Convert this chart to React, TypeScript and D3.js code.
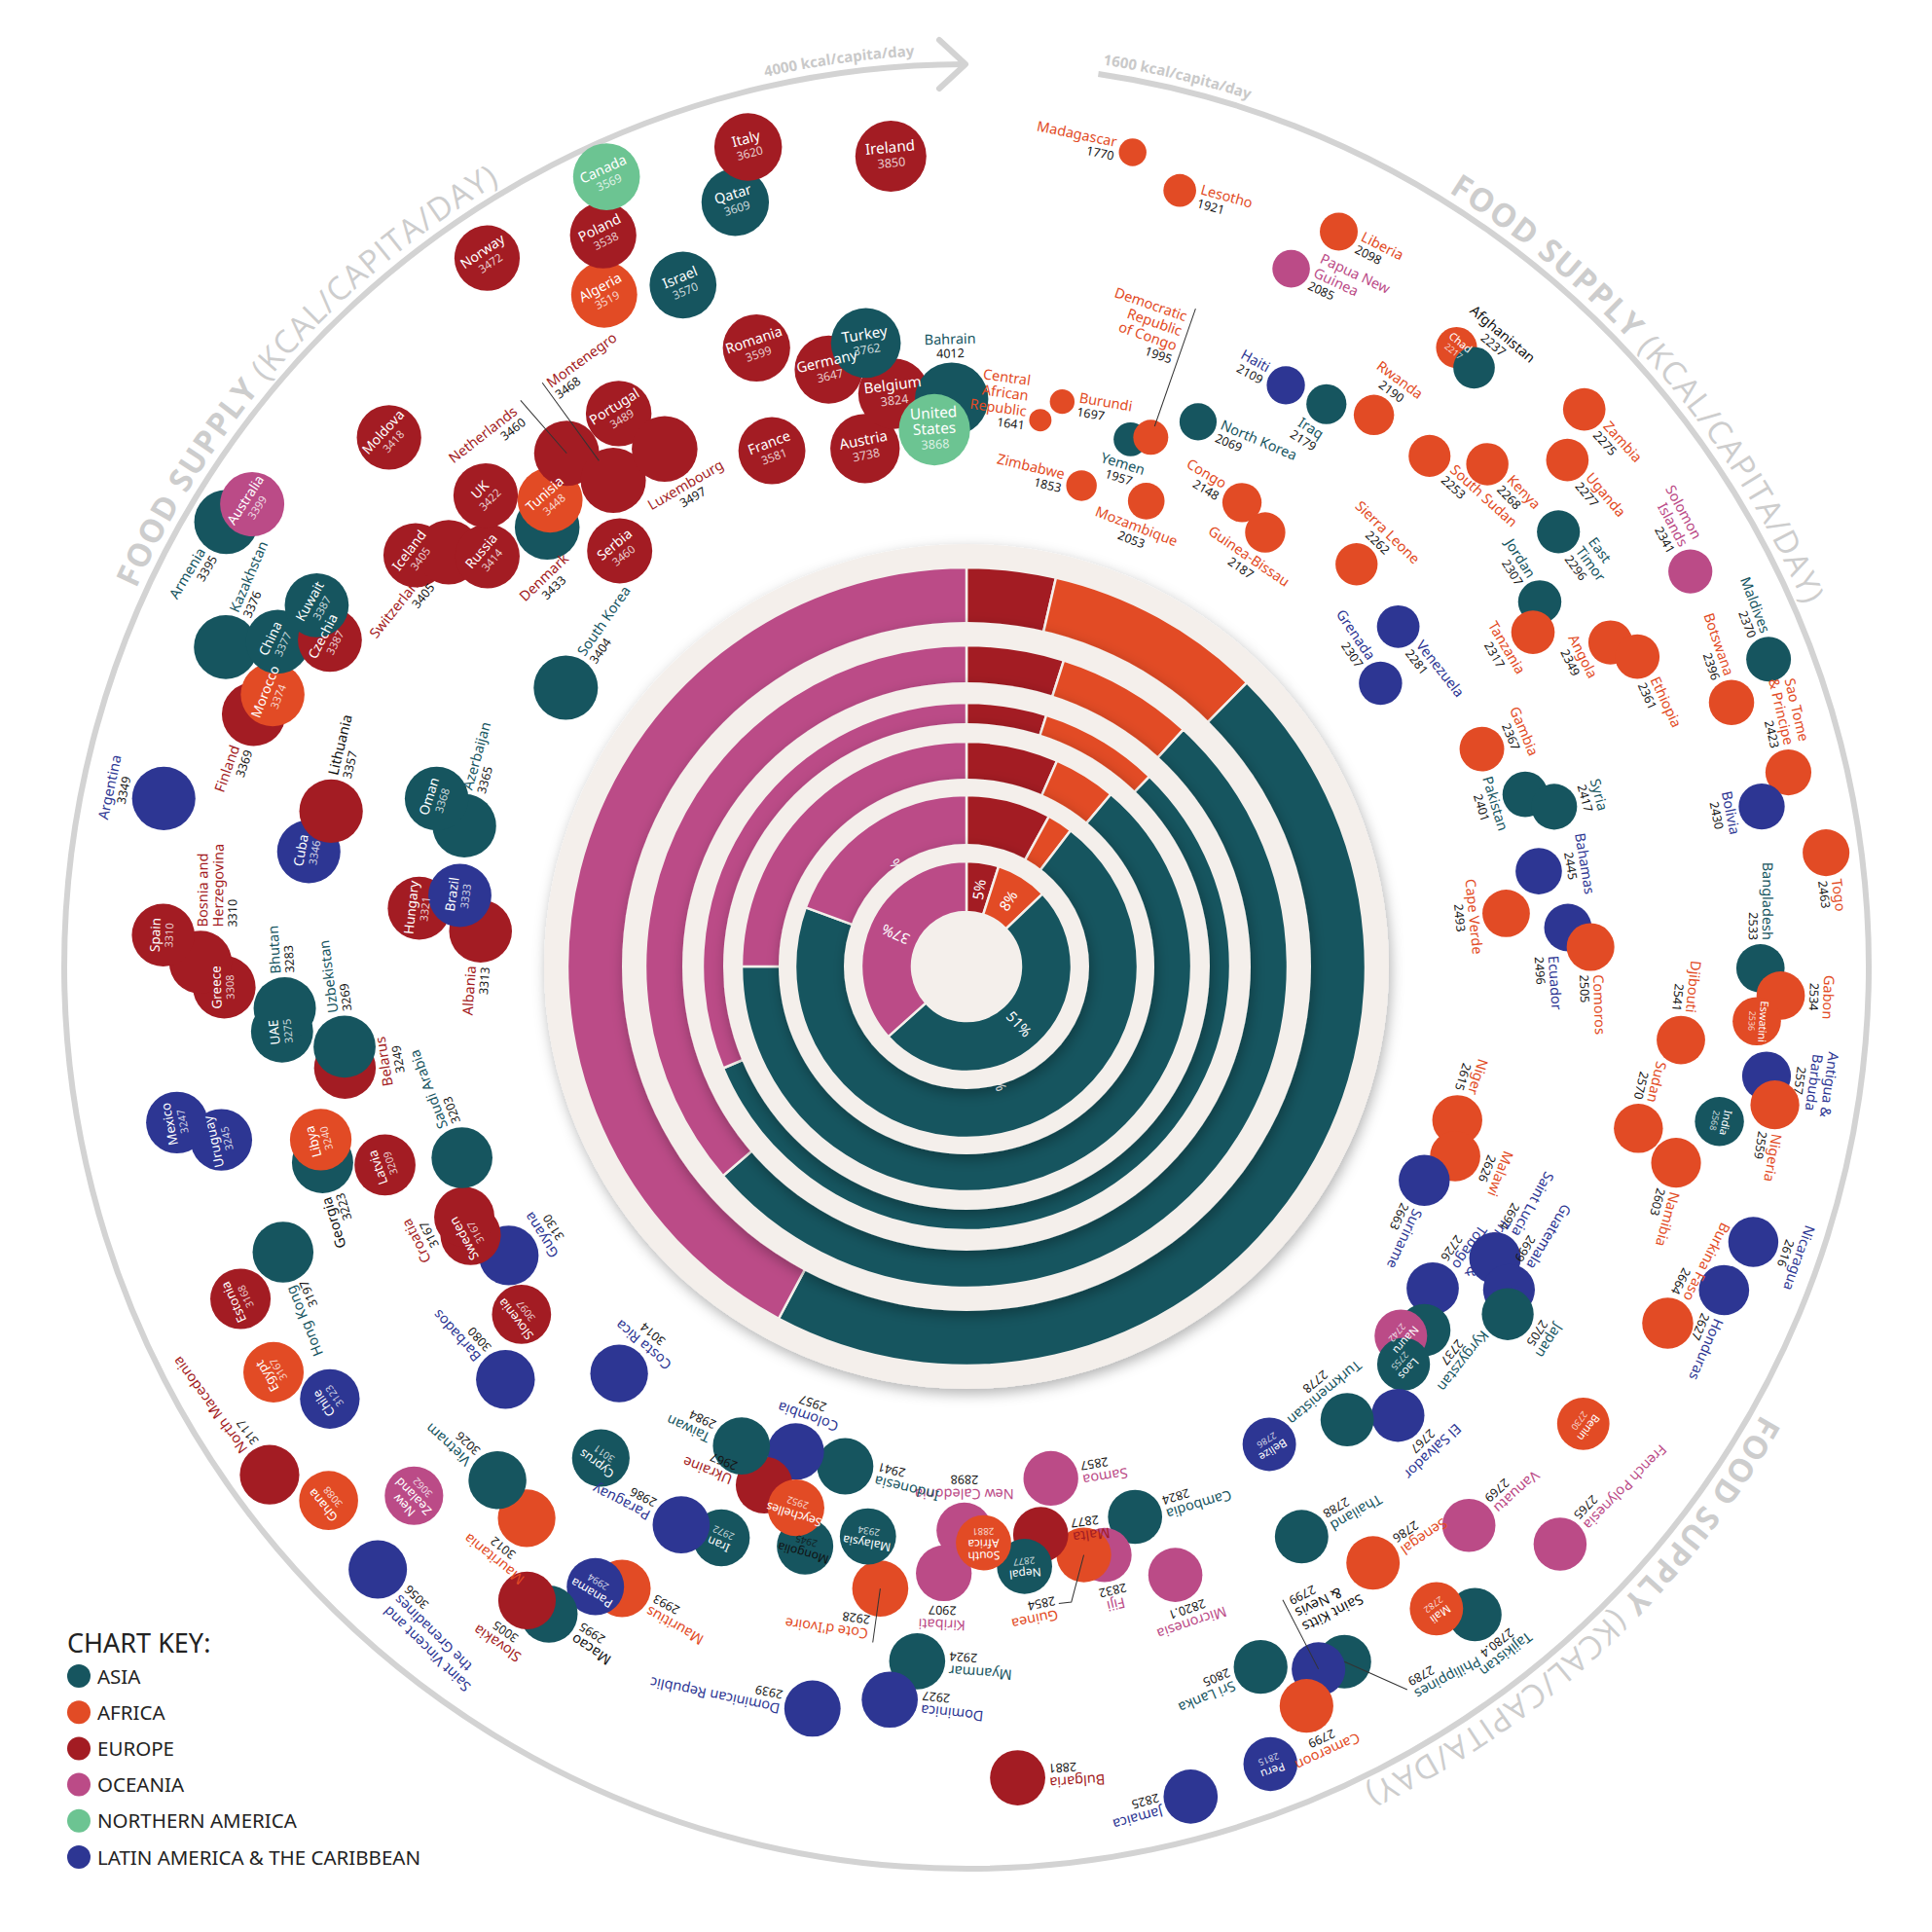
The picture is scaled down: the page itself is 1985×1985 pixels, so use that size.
import React from "react";
import * as d3 from "d3";

// ---------------- DATA ----------------
const countries = [
  "Central African Republic","Burundi","Madagascar","Zimbabwe","Lesotho","Yemen","Democratic Republic of Congo","Mozambique","North Korea","Papua New Guinea",
  "Liberia","Haiti","Congo","Iraq","Guinea-Bissau","Rwanda","Chad","Afghanistan","South Sudan","Sierra Leone",
  "Kenya","Zambia","Uganda","Venezuela","East Timor","Grenada","Jordan","Tanzania","Solomon Islands","Angola",
  "Ethiopia","Gambia","Maldives","Botswana","Pakistan","Syria","Sao Tome & Principe","Bolivia","Bahamas","Togo",
  "Cape Verde","Ecuador","Comoros","Bangladesh","Gabon","Eswatini","Djibouti","Antigua & Barbuda","Nigeria","India",
  "Sudan","Namibia","Niger","Nicaragua","Malawi","Honduras","Suriname","Burkina Faso","Saint Lucia","Guatemala",
  "Japan","Trinidad & Tobago","Benin","Kyrgyzstan","Nauru","Laos","French Polynesia","El Salvador","Vanuatu","Turkmenistan",
  "Tajikistan","Mali","Senegal","Belize","Thailand","Philippines","Saint Kitts & Nevis","Cameroon","Sri Lanka","Peru",
  "Micronesia","Cambodia","Jamaica","Fiji","Guinea","Samoa","Malta","Nepal","Bulgaria","South Africa",
  "New Caledonia","Kiribati","Myanmar","Dominica","Cote d'Ivoire","Malaysia","Dominican Republic","Indonesia","Mongolia","Seychelles",
  "Colombia","Ukraine","Iran","Taiwan","Paraguay","Mauritius","Panama","Macao","Slovakia","Cyprus",
  "Mauritania","Costa Rica","Vietnam","Saint Vincent and the Grenadines","New Zealand","Barbados","Ghana","Slovenia","North Macedonia","Chile",
  "Guyana","Egypt","Sweden","Croatia","Estonia","Hong Kong","Saudi Arabia","Latvia","Georgia","Libya",
  "Uruguay","Mexico","Belarus","Uzbekistan","UAE","Bhutan","Greece","Bosnia and Herzegovina","Spain","Albania",
  "Hungary","Brazil","Cuba","Argentina","Lithuania","Azerbaijan","Oman","Finland","Morocco","Kazakhstan",
  "China","Czechia","Kuwait","Armenia","Australia","South Korea","Iceland","Switzerland","Russia","Moldova",
  "UK","Denmark","Tunisia","Serbia","Netherlands","Montenegro","Norway","Portugal","Luxembourg","Algeria",
  "Poland","Canada","Israel","France","Romania","Qatar","Italy","Germany","Austria","Turkey",
  "Belgium","Ireland","United States","Bahrain",
];

const kcal = [
  1641,1697,1770,1853,1921,1957,1995,2053,2069,2085,
  2098,2109,2148,2179,2187,2190,2217,2237,2253,2262,
  2268,2275,2277,2281,2296,2307,2307,2317,2341,2349,
  2361,2367,2370,2396,2401,2417,2423,2430,2445,2463,
  2493,2496,2505,2533,2534,2536,2541,2557,2559,2568,
  2570,2603,2615,2616,2626,2627,2663,2664,2694,2699,
  2705,2726,2730,2737,2742,2755,2765,2767,2769,2778,
  2780.4,2782,2786,2786,2788,2789,2799,2799,2805,2815,
  2820.1,2824,2825,2832,2854,2857,2877,2877,2881,2881,
  2898,2907,2924,2927,2928,2934,2939,2941,2945,2952,
  2957,2967,2972,2984,2986,2993,2994,2995,3005,3011,
  3012,3014,3026,3056,3062,3080,3088,3097,3117,3123,
  3130,3167,3167,3167,3168,3197,3203,3209,3223,3240,
  3245,3247,3249,3269,3275,3283,3308,3310,3310,3313,
  3321,3333,3346,3349,3357,3365,3368,3369,3374,3376,
  3377,3387,3387,3395,3399,3404,3405,3405,3414,3418,
  3422,3433,3448,3460,3460,3468,3472,3489,3497,3519,
  3538,3569,3570,3581,3599,3609,3620,3647,3738,3762,
  3824,3850,3868,4012,
];

// A Asia, F Africa, E Europe, O Oceania, N Northern America, L Latin America & Caribbean
const regionOf = [
  "F","F","F","F","F","A","F","F","A","O",
  "F","L","F","A","F","F","F","A","F","F",
  "F","F","F","L","A","L","A","F","O","F",
  "F","F","A","F","A","A","F","L","L","F",
  "F","L","F","A","F","F","F","L","F","A",
  "F","F","F","L","F","L","L","F","L","L",
  "A","L","F","A","O","A","O","L","O","A",
  "A","F","F","L","A","A","L","F","A","L",
  "O","A","L","O","F","O","E","A","E","F",
  "O","O","A","L","F","A","L","A","A","F",
  "L","E","A","A","L","F","L","A","E","A",
  "F","L","A","L","O","L","F","E","E","L",
  "L","F","E","E","E","A","A","E","A","F",
  "L","L","E","A","A","A","E","E","E","E",
  "E","L","L","L","E","A","A","E","F","A",
  "A","E","A","A","O","A","E","E","E","E",
  "E","E","F","E","E","E","E","E","E","F",
  "E","N","A","E","E","A","E","E","E","A",
  "E","E","N","A",
];

// relative radial position (share of the outer ring radius)
const radialPos = [
  0.611,0.635,0.921,0.548,0.892,0.612,0.621,0.553,0.656,0.853,
  0.913,0.735,0.598,0.740,0.584,0.760,0.875,0.870,0.764,0.621,
  0.802,0.922,0.871,0.609,0.814,0.556,0.753,0.729,0.914,0.799,
  0.819,0.620,0.952,0.897,0.648,0.675,0.936,0.899,0.643,0.961,
  0.601,0.668,0.692,0.880,0.903,0.878,0.796,0.895,0.909,0.852,
  0.766,0.816,0.570,0.924,0.581,0.913,0.560,0.872,0.669,0.700,
  0.713,0.628,0.851,0.648,0.632,0.655,0.918,0.690,0.833,0.656,
  0.913,0.882,0.800,0.627,0.733,0.877,0.871,0.902,0.842,0.946,
  0.713,0.638,0.953,0.670,0.665,0.575,0.635,0.668,0.901,0.639,
  0.625,0.673,0.772,0.817,0.696,0.641,0.840,0.570,0.667,0.629,
  0.570,0.617,0.689,0.587,0.695,0.788,0.801,0.854,0.855,0.679,
  0.782,0.593,0.771,0.934,0.848,0.686,0.922,0.626,0.956,0.853,
  0.600,0.890,0.625,0.622,0.885,0.821,0.598,0.681,0.746,0.741,
  0.848,0.892,0.698,0.695,0.762,0.757,0.823,0.849,0.891,0.540,
  0.610,0.567,0.740,0.909,0.725,0.578,0.616,0.838,0.826,0.894,
  0.844,0.793,0.824,0.957,0.943,0.541,0.762,0.735,0.699,0.868,
  0.746,0.673,0.693,0.600,0.721,0.666,0.948,0.724,0.664,0.846,
  0.905,0.962,0.818,0.611,0.724,0.885,0.940,0.679,0.585,0.700,
  0.640,0.902,0.596,0.629,
];

const regionKeys = ["A","F","E","O","N","L"];
const regionNames = ["ASIA","AFRICA","EUROPE","OCEANIA","NORTHERN AMERICA","LATIN AMERICA & THE CARIBBEAN"];

// nested rings: shares of red, orange, teal, pink (innermost ring first)
const ringShares = [
  [5, 8, 51, 37],
  [8, 2.4, 70.2, 19.4],
  [6.6, 4.5, 63.9, 25],
  [4.9, 7.3, 56.5, 31.3],
  [4.9, 6.9, 51.9, 36.3],
  [3.6, 8.8, 45.4, 42.2],
];

// ---------------- STYLE / LAYOUT ----------------
const regionColor: Record<string, string> = {
  A: "#16555f", F: "#e24b25", E: "#a31c23", O: "#bb4b87", N: "#6cc492", L: "#2d3693",
};
const ringColors = ["#a31c23", "#e24b25", "#16555f", "#bb4b87"];
const CREAM = "#f4efeb";
const W = 1985;
const CX = 993, CY = 993;
const R_OUT = 927;
const ringOuterR = [108, 176, 231, 271, 330, 410];
const diskR = [126, 193, 250, 292, 354, 434];
const FONT = "'Noto Sans', 'Open Sans', sans-serif";

const nameLines: Record<string, string[]> = {
  "Central African Republic": ["Central", "African", "Republic"],
  "Democratic Republic of Congo": ["Democratic", "Republic", "of Congo"],
  "Papua New Guinea": ["Papua New", "Guinea"],
  "East Timor": ["East", "Timor"],
  "Solomon Islands": ["Solomon", "Islands"],
  "Sao Tome & Principe": ["Sao Tome", "& Principe"],
  "Antigua & Barbuda": ["Antigua &", "Barbuda"],
  "Trinidad & Tobago": ["Trinidad &", "Tobago"],
  "Saint Kitts & Nevis": ["Saint Kitts", "& Nevis"],
  "South Africa": ["South", "Africa"],
  "Saint Vincent and the Grenadines": ["Saint Vincent and", "the Grenadines"],
  "New Zealand": ["New", "Zealand"],
  "Bosnia and Herzegovina": ["Bosnia and", "Herzegovina"],
  "United States": ["United", "States"],
};

const labelMode: Record<string, string> = {
  "Central African Republic": "l", "Burundi": "r", "Madagascar": "l", "Zimbabwe": "l", "Lesotho": "r",
  "Yemen": "b", "Mozambique": "b", "North Korea": "r", "Papua New Guinea": "r", "Liberia": "r",
  "Haiti": "l", "Congo": "l", "Iraq": "b", "Guinea-Bissau": "b", "Rwanda": "a", "Afghanistan": "a",
  "South Sudan": "r", "Sierra Leone": "a", "Kenya": "r", "Zambia": "r", "Uganda": "r", "Venezuela": "r",
  "East Timor": "r", "Grenada": "l", "Jordan": "l", "Tanzania": "b", "Solomon Islands": "l", "Angola": "b",
  "Ethiopia": "r", "Gambia": "a", "Maldives": "l", "Botswana": "l", "Pakistan": "b", "Syria": "a",
  "Sao Tome & Principe": "l", "Bolivia": "b", "Bahamas": "a", "Togo": "r", "Cape Verde": "b",
  "Comoros": "r", "Bangladesh": "l", "Gabon": "a", "Djibouti": "l",
  "Antigua & Barbuda": "a", "Nigeria": "r", "Sudan": "l", "Namibia": "r", "Niger": "l",
  "Nicaragua": "a", "Malawi": "a", "Honduras": "r", "Suriname": "r", "Burkina Faso": "l",
  "Saint Lucia": "l", "Guatemala": "l", "Japan": "a", "Trinidad & Tobago": "l", "Kyrgyzstan": "a",
  "French Polynesia": "l", "El Salvador": "a", "Vanuatu": "l", "Turkmenistan": "b", "Tajikistan": "a",
  "Senegal": "l", "Thailand": "l", "Cameroon": "a", "Sri Lanka": "r", "Micronesia": "a",
  "Cambodia": "l", "Jamaica": "r", "Fiji": "a", "Samoa": "l", "Malta": "l", "Bulgaria": "l",
  "New Caledonia": "b", "Kiribati": "a", "Myanmar": "l", "Dominica": "l", "Dominican Republic": "r",
  "Indonesia": "l", "Colombia": "b", "Ukraine": "r", "Taiwan": "r", "Paraguay": "r", "Mauritius": "l",
  "Macao": "l", "Slovakia": "a", "Mauritania": "a", "Costa Rica": "b", "Vietnam": "r",
  "Saint Vincent and the Grenadines": "l", "Barbados": "r", "North Macedonia": "r", "Guyana": "b",
  "Croatia": "a", "Hong Kong": "l", "Saudi Arabia": "r", "Georgia": "l", "Belarus": "b",
  "Uzbekistan": "r", "Bhutan": "r", "Bosnia and Herzegovina": "rd", "Albania": "l", "Argentina": "a",
  "Lithuania": "r", "Azerbaijan": "r", "Finland": "l", "Kazakhstan": "r", "Armenia": "l",
  "South Korea": "r", "Switzerland": "l", "Luxembourg": "b", "Bahrain": "a",
};

type Custom = { x: number; y: number; anchor: string; lead?: number[] };
const customLabel: Record<string, Custom> = {
  "Democratic Republic of Congo": { x: -6, y: -124, anchor: "end", lead: [0, -12, 0, -140] },
  "Philippines": { x: -48, y: -60, anchor: "end", lead: [0, 0, -43, -56] },
  "Saint Kitts & Nevis": { x: -5, y: 50, anchor: "end", lead: [0, 0, 1, 80] },
  "Guinea": { x: 38, y: -50, anchor: "start", lead: [0, 0, 22, -45, 35, -44] },
  "Cote d'Ivoire": { x: 6, y: -43, anchor: "start", lead: [0, 0, 0, -56] },
  "Denmark": { x: -38, y: 40, anchor: "middle" },
  "Netherlands": { x: -14, y: -63, anchor: "end", lead: [0, 0, -4, -72] },
  "Montenegro": { x: 4, y: -114, anchor: "start", lead: [0, -25, 0, -124] },
  "Ecuador": { x: 28, y: 22, anchor: "start" },
};

const blackNames = ["Afghanistan", "Georgia", "Lithuania", "Macao", "Saint Kitts & Nevis", "Mongolia"];
const fillOverride: Record<string, string> = { Denmark: "A" };
const drawnLast = ["Chile", "Slovenia", "Seychelles", "South Africa", "Turkey", "United States"];

const rad = (deg: number) => (deg * Math.PI) / 180;
const polar = (r: number, deg: number): [number, number] => [CX + r * Math.sin(rad(deg)), CY - r * Math.cos(rad(deg))];

function CountryLabel({ d }: { d: any }) {
  const lines = nameLines[d.name] || [d.name];
  const n = lines.length;
  const isBlack = blackNames.includes(d.name);
  const valStr = Number.isInteger(d.v) ? String(d.v) : d.v.toFixed(1);
  const custom = customLabel[d.name];
  const mode = custom ? "custom" : labelMode[d.name] || "in";
  const r = d.r;
  const tf = `translate(${d.x},${d.y}) rotate(${d.angle})`;

  if (mode === "in") {
    const fs = Math.max(11, Math.min(15.5, r * 0.42));
    const vfs = fs * 0.82;
    const lh = fs * 1.05;
    const startY = -((n - 1) * lh) / 2 - vfs * 0.3;
    const nameFill = isBlack ? "#111" : "#fff";
    return (
      <g transform={tf} fontFamily={FONT} textAnchor="middle">
        {lines.map((t, k) => (
          <text key={k} y={startY + k * lh} fontSize={fs} fill={nameFill}>{t}</text>
        ))}
        <text y={startY + (n - 1) * lh + vfs * 1.2} fontSize={vfs} fill={nameFill} fillOpacity={0.78}>{valStr}</text>
      </g>
    );
  }

  const nameFill = isBlack ? "#111" : regionColor[d.region];
  const nfs = 14.5, vfs = 12.5, lh = 16;
  let x = 0, anchor = "middle";
  let ys: number[] = [];
  let vy = 0;
  let lead: number[] | undefined;
  if (mode === "l" || mode === "r") {
    x = mode === "l" ? -(r + 4) : r + 4;
    anchor = mode === "l" ? "end" : "start";
    ys = lines.map((_, k) => -2 - (n - 1 - k) * lh);
    vy = 12;
  } else if (mode === "rd") {
    x = r + 4; anchor = "start";
    ys = lines.map((_, k) => 7 + k * lh);
    vy = 7 + (n - 1) * lh + 14;
  } else if (mode === "a") {
    vy = -(r + 5);
    ys = lines.map((_, k) => -(r + 5 + 14) - (n - 1 - k) * lh);
  } else if (mode === "b") {
    ys = lines.map((_, k) => r + 14 + k * lh);
    vy = r + 14 + (n - 1) * lh + 14;
  } else if (custom) {
    x = custom.x; anchor = custom.anchor;
    ys = lines.map((_, k) => custom.y + k * lh);
    vy = custom.y + (n - 1) * lh + 14;
    lead = custom.lead;
  }
  return (
    <g transform={tf} fontFamily={FONT} textAnchor={anchor}>
      {lead && (
        <polyline
          points={d3.range(0, lead.length, 2).map((k) => `${lead![k]},${lead![k + 1]}`).join(" ")}
          fill="none" stroke="#333" strokeWidth={1}
        />
      )}
      {lines.map((t, k) => (
        <text key={k} x={x} y={ys[k]} fontSize={nfs} fill={nameFill}>{t}</text>
      ))}
      <text x={x} y={vy} fontSize={vfs} fill="#161616">{valStr}</text>
    </g>
  );
}

export default function App() {
  const N = countries.length;
  const angleScale = d3.scaleLinear().domain([0, N - 1]).range([7.7, 358.5]);
  const radialScale = d3.scaleLinear().domain([0, 1]).range([0, R_OUT]);
  const sizeScale = d3.scaleSqrt().domain([0, 2612]).range([0, 37.7]);

  const data = countries.map((name, i) => {
    const angle = angleScale(i);
    const dist = radialScale(radialPos[i]);
    const [x, y] = polar(dist, angle);
    return { name, v: kcal[i], region: regionOf[i], angle, x, y, r: sizeScale(kcal[i] - 1400), i };
  });

  const order = [...data].sort((a, b) => {
    const ra = drawnLast.indexOf(a.name), rb = drawnLast.indexOf(b.name);
    if (ra !== rb) return ra - rb;
    return a.v - b.v || a.i - b.i;
  });

  const pie = d3.pie<number>().sort(null).value((v) => v);
  const ringArcs = ringShares.map((shares, k) => {
    const inner = k === 0 ? 56 : diskR[k - 1] - 6;
    const arc = d3.arc<d3.PieArcDatum<number>>().innerRadius(inner).outerRadius(ringOuterR[k]);
    return { k, inner, arc, arcs: pie(shares) };
  });

  const textR = 937;
  const circPath = `M ${CX} ${CY - textR} A ${textR} ${textR} 0 1 1 ${CX} ${CY + textR} A ${textR} ${textR} 0 1 1 ${CX} ${CY - textR}`;
  const off = (deg: number) => (deg / 360) * 2 * Math.PI * textR;

  const arcStart = polar(R_OUT, 8.4);
  const arcEnd = polar(R_OUT, 359.9);
  const outerArc = `M ${arcStart[0]} ${arcStart[1]} A ${R_OUT} ${R_OUT} 0 1 1 ${arcEnd[0]} ${arcEnd[1]}`;

  const foodStarts = [294.5, 31.9, 119.4];

  return (
    <svg width={W} height={W} viewBox={`0 0 ${W} ${W}`} style={{ position: "absolute", left: 0, top: 0, background: "#fff" }}>
      <defs>
        <filter id="ringShadow" x="-20%" y="-20%" width="140%" height="140%">
          <feDropShadow dx="2" dy="5" stdDeviation="7" floodColor="#000" floodOpacity="0.3" />
        </filter>
        <path id="textCircle" d={circPath} fill="none" />
      </defs>

      {/* outer axis arc with arrow */}
      <path d={outerArc} fill="none" stroke="#d3d3d3" strokeWidth={6} />
      <path d={`M ${CX - 28} ${CY - R_OUT - 25} L ${CX - 1} ${CY - R_OUT} L ${CX - 28} ${CY - R_OUT + 25}`} fill="none" stroke="#d3d3d3" strokeWidth={6} strokeLinecap="round" strokeLinejoin="round" />

      <text fontFamily="'Open Sans', sans-serif" fontSize={15} fontWeight={700} fill="#c9c9c9">
        <textPath href="#textCircle" startOffset={off(347.3)}>4000 kcal/capita/day</textPath>
      </text>
      <text fontFamily="'Open Sans', sans-serif" fontSize={15} fontWeight={700} fill="#c9c9c9">
        <textPath href="#textCircle" startOffset={off(8.6)}>1600 kcal/capita/day</textPath>
      </text>
      {foodStarts.map((s, k) => (
        <text key={k} fontFamily="'Open Sans', sans-serif" fontSize={33} letterSpacing={1.3} fill="#cdcdcd">
          <textPath href="#textCircle" startOffset={off(s)}>
            <tspan fontWeight={700}>FOOD SUPPLY </tspan>
            <tspan fontWeight={400}>(KCAL/CAPITA/DAY)</tspan>
          </textPath>
        </text>
      ))}

      {/* nested rings */}
      {[...ringArcs].reverse().map(({ k, arc, arcs }) => (
        <g key={k}>
          <circle cx={CX} cy={CY} r={diskR[k]} fill={CREAM} filter="url(#ringShadow)" />
          <g transform={`translate(${CX},${CY})`}>
            {arcs.map((a, j) => (
              <path key={j} d={arc(a) || ""} fill={ringColors[j]} stroke={CREAM} strokeWidth={2.5} />
            ))}
            {(k === 0 || k === 1) &&
              arcs.map((a, j) => {
                if (k === 1 && a.data < 15) return null;
                const c = ((a.startAngle + a.endAngle) / 2) * (180 / Math.PI);
                const rl = k === 0 ? 80 : 118;
                const px = rl * Math.sin(rad(c));
                const py = -rl * Math.cos(rad(c));
                return (
                  <text key={"t" + j} transform={`translate(${px},${py}) rotate(${c - 90})`} textAnchor="middle" dominantBaseline="central"
                    fontFamily={FONT} fontSize={15} fill="#fff">
                    {Math.round(a.data)}%
                  </text>
                );
              })}
          </g>
        </g>
      ))}
      <circle cx={CX} cy={CY} r={56} fill={CREAM} />

      {/* countries */}
      <g>
        {order.map((d) => (
          <circle key={d.name} cx={d.x} cy={d.y} r={d.r} fill={regionColor[fillOverride[d.name] || d.region]} />
        ))}
      </g>
      <g>
        {order.map((d) => (
          <CountryLabel key={d.name} d={d} />
        ))}
      </g>

      {/* legend */}
      <text x={69} y={1698} fontFamily={FONT} fontSize={27} fill="#222">CHART KEY:</text>
      {regionKeys.map((k, j) => {
        const y = 1722 + j * 37.2;
        return (
          <g key={k}>
            <circle cx={81} cy={y} r={12} fill={regionColor[k]} />
            <text x={100} y={y + 7.5} fontFamily={FONT} fontSize={20.5} fill="#222">{regionNames[j]}</text>
          </g>
        );
      })}
    </svg>
  );
}
